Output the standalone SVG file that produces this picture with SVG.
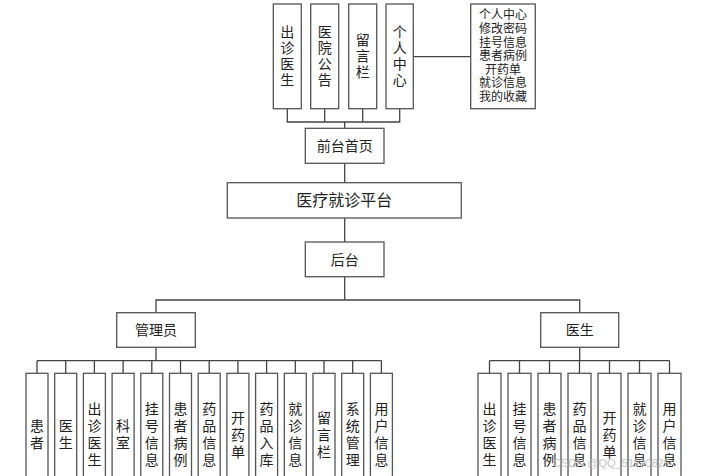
<svg xmlns="http://www.w3.org/2000/svg" width="706" height="476" viewBox="0 0 706 476">
<style>
.box{fill:#fff;stroke:#555;stroke-width:1.3}
.ln{fill:none;stroke:#444;stroke-width:1.3}
.t{font-family:"Noto Sans CJK SC","Noto Sans",sans-serif;font-size:14px;fill:#222;text-anchor:middle}
.v{writing-mode:vertical-rl;letter-spacing:3px}
.vt{writing-mode:vertical-rl;letter-spacing:2px}
.s{font-family:"Liberation Sans","Noto Sans CJK SC",sans-serif;font-size:12px}
.big{font-size:16px}
.wm{font-family:"Liberation Sans",sans-serif;font-size:11px;fill:#bbb;opacity:0.85}
</style>
<rect width="706" height="476" fill="#fff"/>
<g id="connectors">
<path class="ln" d="M287.3,108.7V122H399.7V108.7M324.7,108.7V122M362.7,108.7V122M344.7,122V128.3"/>
<path class="ln" d="M413.3,56.7H470.7"/>
<path class="ln" d="M344.7,163.3V182.7M344.7,218V242M344.7,276.7V300"/>
<path class="ln" d="M156,312.7V300H579.7V312.7"/>
<path class="ln" d="M156,347.3V360.7M37,360.7H381.4M37,360.7V373.3M65.7,360.7V373.3M94.4,360.7V373.3M123.1,360.7V373.3M151.8,360.7V373.3M180.5,360.7V373.3M209.2,360.7V373.3M237.9,360.7V373.3M266.6,360.7V373.3M295.3,360.7V373.3M324,360.7V373.3M352.7,360.7V373.3M381.4,360.7V373.3"/>
<path class="ln" d="M579.7,347.3V360.7M489.5,360.7H669.5M489.5,360.7V373.3M519.5,360.7V373.3M549.5,360.7V373.3M579.5,360.7V373.3M609.5,360.7V373.3M639.5,360.7V373.3M669.5,360.7V373.3"/>
</g>
<g id="top1"><rect class="box" x="273.3" y="4" width="28" height="104.7"/><text class="t vt" x="287.3" y="57">出诊医生</text></g>
<g id="top2"><rect class="box" x="310.7" y="4" width="28" height="104.7"/><text class="t vt" x="324.7" y="57">医院公告</text></g>
<g id="top3"><rect class="box" x="348.7" y="4" width="28" height="104.7"/><text class="t vt" x="362.7" y="57">留言栏</text></g>
<g id="top4"><rect class="box" x="386" y="4" width="27.3" height="104.7"/><text class="t vt" x="399.7" y="57">个人中心</text></g>
<g id="personal"><rect class="box" x="470.7" y="4" width="64.6" height="104.7"/><text class="t s"><tspan x="503" y="19.3">个人中心</tspan><tspan x="503" y="32.9">修改密码</tspan><tspan x="503" y="46.5">挂号信息</tspan><tspan x="503" y="60.1">患者病例</tspan><tspan x="503" y="73.7">开药单</tspan><tspan x="503" y="87.3">就诊信息</tspan><tspan x="503" y="100.9">我的收藏</tspan></text></g>
<g id="front"><rect class="box" x="305.3" y="128.3" width="78.7" height="35"/><text class="t" x="344.7" y="151">前台首页</text></g>
<g id="platform"><rect class="box" x="227.3" y="182.7" width="234" height="35.3"/><text class="t big" x="344.3" y="206">医疗就诊平台</text></g>
<g id="back"><rect class="box" x="305.3" y="242" width="78.7" height="34.7"/><text class="t" x="344.7" y="264.5">后台</text></g>
<g id="admin"><rect class="box" x="116.7" y="312.7" width="78.6" height="34.6"/><text class="t" x="156" y="335">管理员</text></g>
<g id="doctor"><rect class="box" x="540.7" y="312.7" width="78" height="34.6"/><text class="t" x="579.7" y="335">医生</text></g>
<g id="a1"><rect class="box" x="26" y="373.3" width="22" height="120"/><text class="t v" x="37" y="436">患者</text></g>
<g id="a2"><rect class="box" x="54.7" y="373.3" width="22" height="120"/><text class="t v" x="65.7" y="436">医生</text></g>
<g id="a3"><rect class="box" x="83.4" y="373.3" width="22" height="120"/><text class="t v" x="94.4" y="436">出诊医生</text></g>
<g id="a4"><rect class="box" x="112.1" y="373.3" width="22" height="120"/><text class="t v" x="123.1" y="436">科室</text></g>
<g id="a5"><rect class="box" x="140.8" y="373.3" width="22" height="120"/><text class="t v" x="151.8" y="436">挂号信息</text></g>
<g id="a6"><rect class="box" x="169.5" y="373.3" width="22" height="120"/><text class="t v" x="180.5" y="436">患者病例</text></g>
<g id="a7"><rect class="box" x="198.2" y="373.3" width="22" height="120"/><text class="t v" x="209.2" y="436">药品信息</text></g>
<g id="a8"><rect class="box" x="226.9" y="373.3" width="22" height="120"/><text class="t v" x="237.9" y="436">开药单</text></g>
<g id="a9"><rect class="box" x="255.6" y="373.3" width="22" height="120"/><text class="t v" x="266.6" y="436">药品入库</text></g>
<g id="a10"><rect class="box" x="284.3" y="373.3" width="22" height="120"/><text class="t v" x="295.3" y="436">就诊信息</text></g>
<g id="a11"><rect class="box" x="313" y="373.3" width="22" height="120"/><text class="t v" x="324" y="436">留言栏</text></g>
<g id="a12"><rect class="box" x="341.7" y="373.3" width="22" height="120"/><text class="t v" x="352.7" y="436">系统管理</text></g>
<g id="a13"><rect class="box" x="370.4" y="373.3" width="22" height="120"/><text class="t v" x="381.4" y="436">用户信息</text></g>
<g id="d1"><rect class="box" x="478" y="373.3" width="23" height="120"/><text class="t v" x="489.5" y="436">出诊医生</text></g>
<g id="d2"><rect class="box" x="508" y="373.3" width="23" height="120"/><text class="t v" x="519.5" y="436">挂号信息</text></g>
<g id="d3"><rect class="box" x="538" y="373.3" width="23" height="120"/><text class="t v" x="549.5" y="436">患者病例</text></g>
<g id="d4"><rect class="box" x="568" y="373.3" width="23" height="120"/><text class="t v" x="579.5" y="436">药品信息</text></g>
<g id="d5"><rect class="box" x="598" y="373.3" width="23" height="120"/><text class="t v" x="609.5" y="436">开药单</text></g>
<g id="d6"><rect class="box" x="628" y="373.3" width="23" height="120"/><text class="t v" x="639.5" y="436">就诊信息</text></g>
<g id="d7"><rect class="box" x="658" y="373.3" width="23" height="120"/><text class="t v" x="669.5" y="436">用户信息</text></g>
<text class="wm" x="553" y="467">CSDN @QQ_51190825</text>
</svg>
